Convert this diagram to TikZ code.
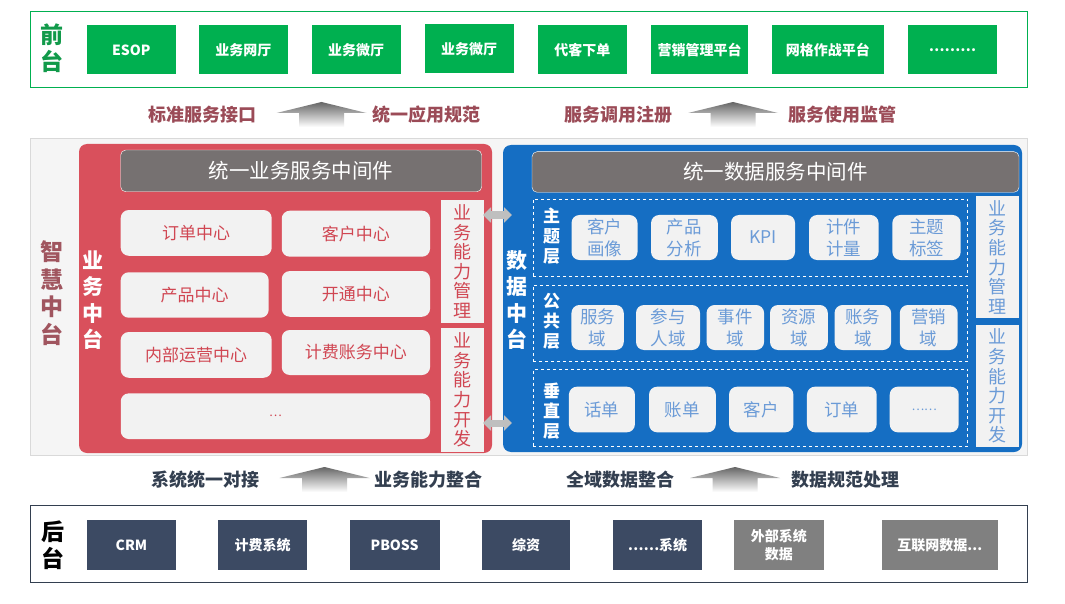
\documentclass[tikz,border=0pt]{standalone}
\usepackage{fontspec}
\setmainfont{Noto Sans CJK SC}
\usetikzlibrary{arrows.meta,positioning}

\definecolor{frontgreen}{HTML}{00B050}
\definecolor{frontdark}{HTML}{119A4A}
\definecolor{linkred}{HTML}{9B4B57}
\definecolor{linknavy}{HTML}{333F50}
\definecolor{bizred}{HTML}{D9505C}
\definecolor{biztext}{HTML}{D04652}
\definecolor{smarttext}{HTML}{A0555F}
\definecolor{datablue}{HTML}{156EC3}
\definecolor{datatext}{HTML}{6B9BD7}
\definecolor{mwgray}{HTML}{767171}
\definecolor{backnavy}{HTML}{3C4A63}
\definecolor{backgray}{HTML}{808080}

\begin{document}
\begin{tikzpicture}[x=1pt,y=-1pt,
  frame/.style={draw,inner sep=0pt,line width=0.8pt},
  tag/.style={inner sep=0pt,align=center,font=\fontsize{23}{27}\selectfont\bfseries},
  fbox/.style={fill=frontgreen,inner sep=0pt,minimum height=49pt,text=white,
               font=\fontsize{14}{16}\selectfont\bfseries},
  bbox/.style={fill=backnavy,inner sep=0pt,minimum height=50pt,text=white,align=center,
               font=\fontsize{14}{18}\selectfont\bfseries},
  link/.style={inner sep=0pt,font=\fontsize{18}{20}\selectfont\bfseries},
  mw/.style={fill=mwgray,draw=white,rounded corners=5pt,inner sep=0pt,text=white,
             font=\fontsize{20.5}{22}\selectfont},
  bcell/.style={fill=black!5,rounded corners=8pt,inner sep=0pt,text=biztext,
                font=\fontsize{17}{20}\selectfont},
  dcell/.style={fill=black!5,rounded corners=8pt,inner sep=0pt,text=datatext,align=center,
                font=\fontsize{17.5}{22}\selectfont},
  strip/.style={fill=black!5,inner sep=0pt,minimum width=43.5pt,align=center,
                font=\fontsize{18}{19.6}\selectfont},
  layer/.style={draw=white,dashed,line width=0.8pt,inner sep=0pt,minimum width=434.7pt},
  ltag/.style={inner sep=0pt,align=center,text=white,font=\fontsize{17}{20}\selectfont\bfseries},
  dblarr/.style={draw=black!25,line width=7pt,<->,>={Triangle[width=15pt,length=8pt]}},
  uparr/.pic={\shade[top color=black!60,bottom color=white]
      (0,-13) -- (45,-2) -- (22.5,-2) -- (22.5,12) -- (-22.5,12) -- (-22.5,-2) -- (-45,-2) -- cycle;}
]
\useasboundingbox[fill=white] (0,0) rectangle (1065,604);

% front layer
\node[frame,draw=frontgreen,minimum width=997pt,minimum height=76.5pt] (front) at (528.5,49.2) {};
\node[tag,text=frontdark] (frontlbl) at (52,48) {前\\台};
\node[fbox,minimum width=89pt] (esop) at (131.2,50) {ESOP};
\node[fbox,minimum width=88.5pt] (wangting) at (243.3,50) {业务网厅};
\node[fbox,minimum width=89pt] (weiting) at (356,50) {业务微厅};
\node[fbox,minimum width=89pt] (weiting2) at (469.2,49) {业务微厅};
\node[fbox,minimum width=89.5pt] (daike) at (582.3,50) {代客下单};
\node[fbox,minimum width=97pt] (yingxiao) at (699.5,50) {营销管理平台};
\node[fbox,minimum width=112.4pt] (wangge) at (827.8,50) {网格作战平台};
\node[fbox,minimum width=89.2pt] (fdots) at (952.4,50) {………};

% upper links
\node[link,text=linkred] (std) at (202.7,115) {标准服务接口};
\pic at (321.5,115) {uparr};
\node[link,text=linkred] (spec) at (426.5,115) {统一应用规范};
\node[link,text=linkred] (reg) at (618,115) {服务调用注册};
\pic at (733,115) {uparr};
\node[link,text=linkred] (mon) at (842,115) {服务使用监管};

% middle layer
\node[frame,draw=black!15,fill=black!4,minimum width=997pt,minimum height=317pt] (mid) at (528.5,296.5) {};
\node[tag,text=smarttext,font=\fontsize{23}{27.5}\selectfont\bfseries] (smartlbl) at (52,293) {智\\慧\\中\\台};

% business middle platform
\node[fill=bizred,rounded corners=8pt,inner sep=0pt,minimum width=413pt,minimum height=309pt] (bizpanel) at (285.5,298.5) {};
\node[ltag,font=\fontsize{21}{26.5}\selectfont\bfseries] (bizlbl) at (92.5,300) {业\\务\\中\\台};
\node[mw,minimum width=361pt,minimum height=41.7pt] (bizmw) at (301.2,170.9) {统一业务服务中间件};
\node[bcell,minimum width=151pt,minimum height=45.7pt] (order) at (196.2,232.9) {订单中心};
\node[bcell,minimum width=148.3pt,minimum height=46pt] (cust) at (355.9,233.7) {客户中心};
\node[bcell,minimum width=148pt,minimum height=45.4pt] (prod) at (194.7,295) {产品中心};
\node[bcell,minimum width=148.3pt,minimum height=45.7pt] (open) at (355.9,293.9) {开通中心};
\node[bcell,minimum width=151pt,minimum height=45.7pt] (inner) at (196.2,354.9) {内部运营中心};
\node[bcell,minimum width=148.3pt,minimum height=45pt] (billing) at (355.9,352.5) {计费账务中心};
\node[bcell,minimum width=309.3pt,minimum height=45.7pt,font=\fontsize{12}{14}\selectfont] (bdots) at (275.4,416.2) {…};
\node[strip,text=biztext,minimum height=122.7pt] (bmgmt) at (462.5,261.4) {业\\务\\能\\力\\管\\理};
\node[strip,text=biztext,minimum height=123.7pt] (bdev) at (462.5,389.9) {业\\务\\能\\力\\开\\发};

% data middle platform
\node[fill=datablue,rounded corners=8pt,inner sep=0pt,minimum width=519pt,minimum height=307pt] (datapanel) at (762.5,298.5) {};
\node[ltag,font=\fontsize{21}{26.5}\selectfont\bfseries] (datalbl) at (517,300) {数\\据\\中\\台};
\node[mw,minimum width=487pt,minimum height=40.6pt] (datamw) at (775.5,172) {统一数据服务中间件};
\node[layer,minimum height=77.4pt] (ltopic) at (750.4,238) {};
\node[layer,minimum height=76.7pt] (lcommon) at (750.4,323.4) {};
\node[layer,minimum height=77.4pt] (lvert) at (750.4,408) {};
\node[ltag] (topiclbl) at (551.7,236) {主\\题\\层};
\node[ltag] (commonlbl) at (551.7,321) {公\\共\\层};
\node[ltag] (vertlbl) at (551.7,411) {垂\\直\\层};

\node[dcell,minimum width=66pt,minimum height=45pt] (portrait) at (604.5,237.5) {客户\\画像};
\node[dcell,minimum width=66.7pt,minimum height=45pt] (analysis) at (684.4,237.5) {产品\\分析};
\node[dcell,minimum width=64pt,minimum height=45pt] (kpi) at (763,237.5) {KPI};
\node[dcell,minimum width=69.5pt,minimum height=45pt] (piece) at (843.8,237.5) {计件\\计量};
\node[dcell,minimum width=68.3pt,minimum height=45pt] (label) at (926.5,237.5) {主题\\标签};

\node[dcell,minimum width=52.3pt,minimum height=45pt] (svcdom) at (597.6,327.5) {服务\\域};
\node[dcell,minimum width=64pt,minimum height=45pt] (partydom) at (668,327.5) {参与\\人域};
\node[dcell,minimum width=57.5pt,minimum height=45pt] (eventdom) at (735.3,327.5) {事件\\域};
\node[dcell,minimum width=57.8pt,minimum height=45pt] (resdom) at (798.9,327.5) {资源\\域};
\node[dcell,minimum width=56.5pt,minimum height=45pt] (acctdom) at (862.8,327.5) {账务\\域};
\node[dcell,minimum width=57.8pt,minimum height=45pt] (mktdom) at (928.7,327.5) {营销\\域};

\node[dcell,minimum width=66pt,minimum height=45.6pt] (cdr) at (601.9,409.5) {话单};
\node[dcell,minimum width=66.8pt,minimum height=45.6pt] (bill) at (682.4,409.5) {账单};
\node[dcell,minimum width=64.4pt,minimum height=45.6pt] (custv) at (761.2,409.5) {客户};
\node[dcell,minimum width=69.7pt,minimum height=45.6pt] (orderv) at (841.8,409.5) {订单};
\node[dcell,minimum width=69pt,minimum height=45.6pt,font=\fontsize{12}{14}\selectfont] (vdots) at (924.2,409.5) {……};

\node[strip,text=datatext,minimum height=122.3pt] (dmgmt) at (997.3,257.2) {业\\务\\能\\力\\管\\理};
\node[strip,text=datatext,minimum height=122.3pt] (ddev) at (997.3,386.2) {业\\务\\能\\力\\开\\发};

% between the two platforms
\coordinate (mgmtL) at (483,215);
\coordinate (mgmtR) at (512,215);
\coordinate (devL) at (483,423);
\coordinate (devR) at (512,423);
\draw[dblarr] (mgmtL) -- (mgmtR);
\draw[dblarr] (devL) -- (devR);

% lower links
\node[link,text=linknavy] (dock) at (205,480) {系统统一对接};
\pic at (324.5,480) {uparr};
\node[link,text=linknavy] (merge) at (428,480) {业务能力整合};
\node[link,text=linknavy] (whole) at (620,480) {全域数据整合};
\pic at (735,480) {uparr};
\node[link,text=linknavy] (norm) at (845,480) {数据规范处理};

% back layer
\node[frame,draw=linknavy,minimum width=997.6pt,minimum height=76.6pt] (back) at (528.8,544) {};
\node[tag,text=black] (backlbl) at (52.5,545) {后\\台};
\node[bbox,minimum width=89pt] (crm) at (131.5,545) {CRM};
\node[bbox,minimum width=89pt] (charge) at (262.5,545) {计费系统};
\node[bbox,minimum width=90pt] (pboss) at (394.6,545) {PBOSS};
\node[bbox,minimum width=88.3pt] (res) at (526.2,545) {综资};
\node[bbox,minimum width=89pt] (other) at (657.5,545) {……系统};
\node[bbox,fill=backgray,minimum width=89.5pt] (ext) at (778.8,545) {外部系统\\数据};
\node[bbox,fill=backgray,minimum width=115.6pt] (web) at (939.8,545) {互联网数据...};
\end{tikzpicture}
\end{document}
